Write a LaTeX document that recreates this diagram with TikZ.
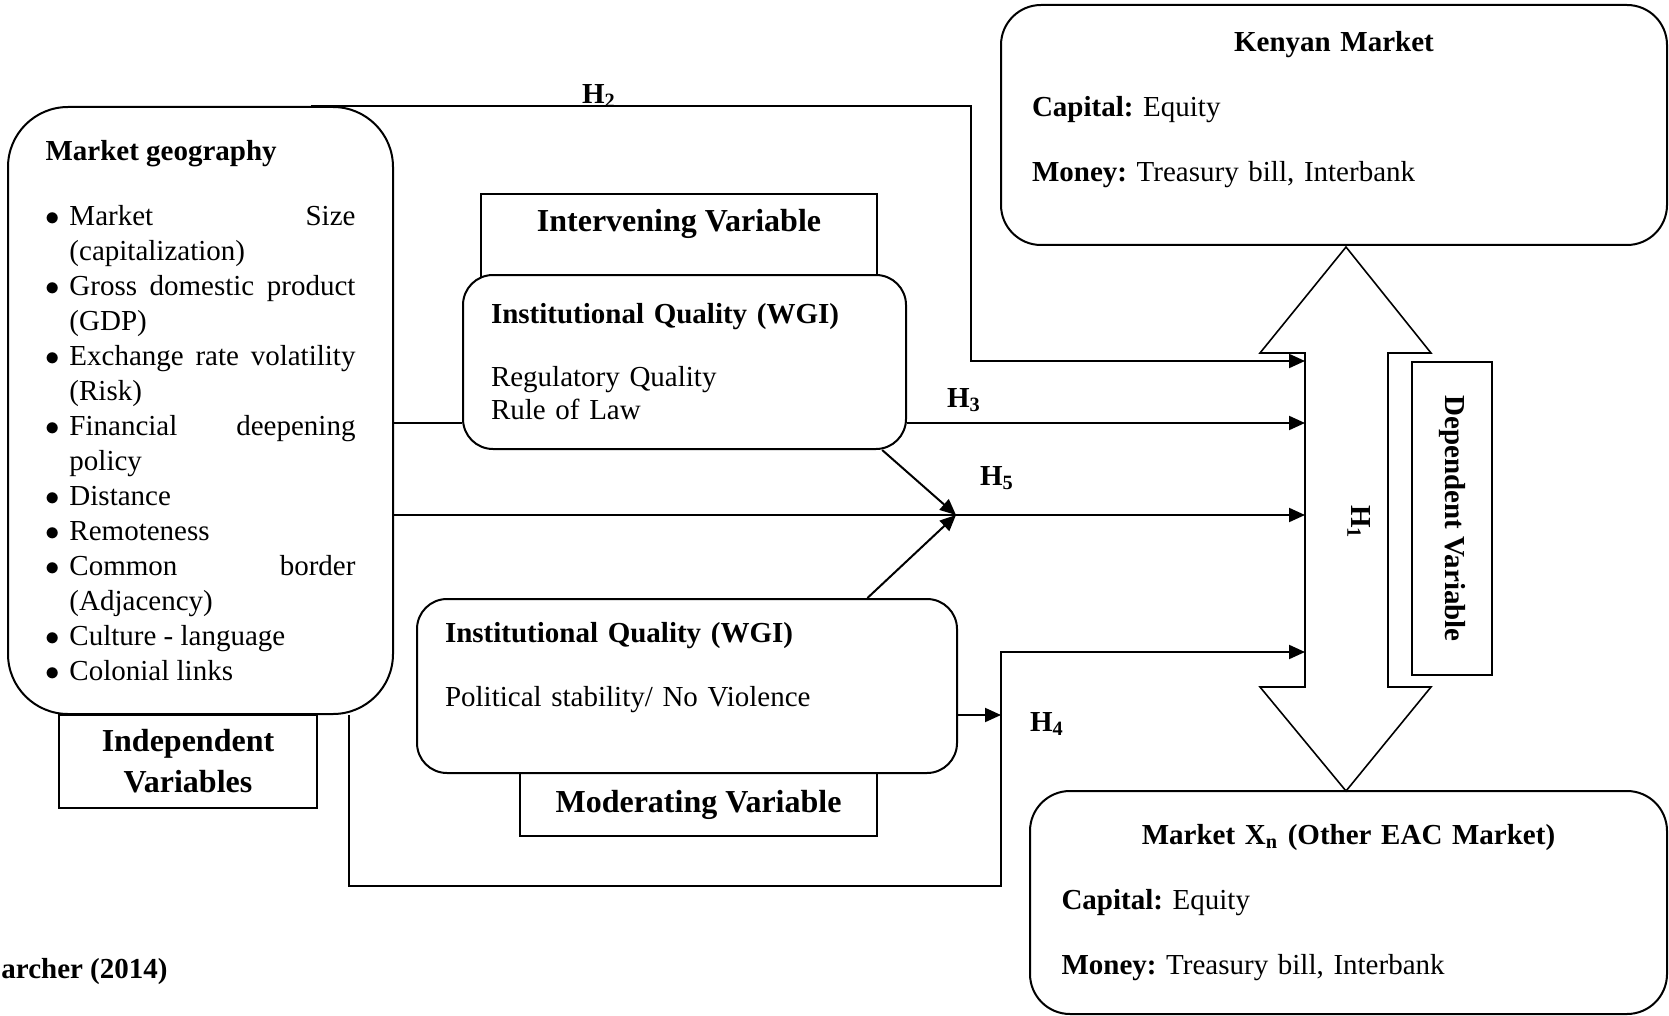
\documentclass[tikz,border=0pt]{standalone}
\usepackage{fontspec}
\setmainfont{Liberation Serif}
\usetikzlibrary{arrows.meta,positioning}
\frenchspacing

\newcommand{\geoitem}[1]{\par\hangindent=12pt\hangafter=1\noindent\makebox[12pt][l]{$\bullet$}#1}

\begin{document}
\begin{tikzpicture}[x=0.5pt, y=-0.5pt,
			box/.style = {draw, line width=1pt, fill=white, inner sep=0pt},
			rbox/.style = {box, rounded corners=15pt},
			body/.style = {font=\fontsize{14.5}{17.5}\selectfont},
			vartitle/.style = {font=\fontsize{16}{20.5}\selectfont\bfseries, align=center, inner sep=0pt},
			hlabel/.style = {font=\fontsize{14.5}{17.5}\selectfont\bfseries, inner sep=0pt},
			flow/.style = {draw, line width=1pt, -{Triangle[length=8pt,width=7pt]}},
			link/.style = {draw, line width=1pt}
			]
			\useasboundingbox (0,0) rectangle (1669,1016);
			
			% independent side
			\node[rbox, rounded corners=30pt, body, minimum width=192.5pt, minimum height=303.5pt, text width=155pt, align=justify] (geo) at (200.5,410.5) {\textbf{Market geography}\par\vspace{15pt}
				\geoitem{Market\hfill Size\newline (capitalization)}
				\geoitem{Gross\hfill domestic\hfill product\newline (GDP)}
				\geoitem{Exchange\hfill rate\hfill volatility\newline (Risk)}
				\geoitem{Financial\hfill deepening\newline policy}
				\geoitem{Distance}
				\geoitem{Remoteness}
				\geoitem{Common\hfill border\newline (Adjacency)}
				\geoitem{Culture - language}
				\geoitem{Colonial links}};
			\node[box, vartitle, minimum width=129pt, minimum height=46.5pt] (indep) at (188,761.5) {Independent\\Variables};
			
			% intervening
			\node[box, minimum width=198pt, minimum height=44pt, anchor=north] (ivhdr) at (679,193) {};
			\node[vartitle] (ivlbl) at (679,224) {Intervening Variable};
			\node[rbox, body, minimum width=221.5pt, minimum height=87pt, text width=193.5pt, align=left] (iq1) at (684.5,362) {\textbf{Institutional Quality (WGI)}\\[14pt] Regulatory Quality\\[-1pt] Rule of Law};
			
			% moderating
			\node[box, vartitle, minimum width=178.5pt, minimum height=31.5pt] (modhdr) at (698.5,804.5) {Moderating Variable};
			\node[rbox, body, minimum width=270pt, minimum height=87pt, text width=242pt, align=left] (iq2) at (687,686) {\textbf{Institutional Quality (WGI)}\\[14.5pt] Political stability/ No Violence\\[4pt]\mbox{}};
			
			% markets
			\node[rbox, rounded corners=20pt, body, minimum width=333pt, minimum height=120pt, text width=302pt, align=left] (ken) at (1334,125) {{\centering\textbf{Kenyan Market}\par}\vspace{15pt}
				\textbf{Capital:} Equity\\[15pt] \textbf{Money:} Treasury bill, Interbank\\[1pt]\mbox{}};
			\node[rbox, rounded corners=20pt, body, minimum width=318.5pt, minimum height=111.5pt, text width=287pt, align=left] (xn) at (1348.5,902.5) {{\centering\textbf{Market X\textsubscript{n} (Other EAC Market)}\par}\vspace{15pt}
				\textbf{Capital:} Equity\\[15pt] \textbf{Money:} Treasury bill, Interbank};
			
			% H1 double arrow
			\draw[line width=0.8pt] (1346,247) -- (1431,353) -- (1388,353) -- (1388,687) -- (1431,687) -- (1346,791) -- (1260,687) -- (1305,687) -- (1305,353) -- (1260,353) -- cycle;
			\node[hlabel, rotate=-90] (h1) at (1359,522) {H\textsubscript{1}};
			\node[box, hlabel, rotate=-90, minimum width=156.5pt, minimum height=40pt] (dep) at (1452,518.5) {Dependent Variable};
			
			\coordinate (in2) at (1305,361);
			\coordinate (in3) at (1305,423);
			\coordinate (in5) at (1305,515);
			\coordinate (in4) at (1305,652);
			\coordinate (h2bend) at (971,361);
			\coordinate (meet) at (956,515);
			\coordinate (h4low) at (1001,886);
			\coordinate (h4in) at (1001,715);
			
			% connectors
			\draw[flow] (geo.70) -| (h2bend) -- (in2);
			\draw[link] (geo.east |- in3) -- (iq1.west |- in3);
			\draw[flow] (iq1.east |- in3) -- (in3);
			\draw[flow] (geo.east |- in5) -- (in5);
			\draw[flow] (iq1.-24) -- (meet);
			\draw[flow] (iq2.26) -- (meet);
			\draw[flow] (geo.-64) |- (h4low) |- (in4);
			\draw[flow] (iq2.east |- h4in) -- (h4in);
			
			\node[hlabel] (h2) at (599,96) {H\textsubscript{2}};
			\node[hlabel] (h3) at (964,400) {H\textsubscript{3}};
			\node[hlabel] (h5) at (997,478) {H\textsubscript{5}};
			\node[hlabel] (h4) at (1047,724) {H\textsubscript{4}};
			\node[hlabel, anchor=west] (src) at (1,972) {archer (2014)};
		\end{tikzpicture}
\end{document}
